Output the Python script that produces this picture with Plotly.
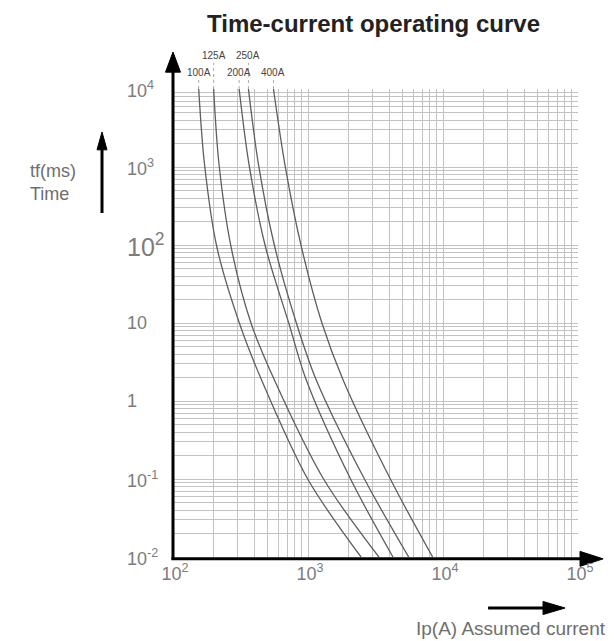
import math
import plotly.graph_objects as go

# ---- data ----
time_ms = [10000, 1100, 95, 10, 1.86, 0.097, 0.01]
curr_100a = [155, 171, 211, 310, 453, 1005, 2470]
curr_125a = [200, 219, 269, 378, 564, 1318, 3350]
curr_200a = [309, 365, 484, 720, 971, 2085, 4260]
curr_250a = [362, 429, 567, 820, 1151, 2643, 5570]
curr_400a = [555, 673, 893, 1268, 1820, 4110, 8380]
ratings = ["100A", "125A", "200A", "250A", "400A"]

x_decades = [100, 1000, 10000, 100000]
x_decade_text = ["10<sup>2</sup>", "10<sup>3</sup>", "10<sup>4</sup>", "10<sup>5</sup>"]
y_decades = [10000, 1000, 100, 10, 1, 0.1, 0.01]
y_decade_text = ["10<sup>4</sup>", "10<sup>3</sup>", "10<sup>2</sup>", "10", "1",
                 "10<sup>-1</sup>", "10<sup>-2</sup>"]
minor_mult = [1, 2, 3, 4, 5, 6, 7, 8, 9]

curves = [curr_100a, curr_125a, curr_200a, curr_250a, curr_400a]

FONT = "Liberation Sans, Arial, sans-serif"
GRAY = "#7c7c7c"

fig = go.Figure()
for name, cur in zip(ratings, curves):
    fig.add_trace(go.Scatter(x=cur, y=time_ms, mode="lines", name=name,
                             line=dict(color="#5e5e5e", width=1.3, shape="spline", smoothing=0.9),
                             showlegend=False, hoverinfo="x+y+name"))

# grid positions (1..9 per decade)
x_grid = [m * d for d in x_decades[:-1] for m in minor_mult] + [x_decades[-1]]
x_grid_text = []
for v in x_grid:
    if v in x_decades:
        x_grid_text.append(x_decade_text[x_decades.index(v)])
    else:
        x_grid_text.append("")
y_grid = [m * d for d in sorted(y_decades)[:-1] for m in minor_mult] + [max(y_decades)]

fig.update_xaxes(type="log", range=[2, 5], tickvals=x_grid, ticktext=x_grid_text,
                 showgrid=True, gridcolor="#c2c2c2", gridwidth=1, ticks="",
                 showline=False, zeroline=False, ticklabelstandoff=4, ticklabelshift=2,
                 tickfont=dict(family=FONT, size=18, color=GRAY))
fig.update_yaxes(type="log", range=[-2, 4], tickvals=y_grid, showticklabels=False,
                 showgrid=True, gridcolor="#c2c2c2", gridwidth=1, ticks="",
                 showline=False, zeroline=False)

annotations = []
# y tick labels (left aligned like reference)
for v, t in zip(y_decades, y_decade_text):
    size = 25 if v == 100 else 18
    annotations.append(dict(x=-0.119, xref="paper", y=math.log10(v), yref="y",
                            text=t, showarrow=False, xanchor="left", yanchor="middle",
                            font=dict(family=FONT, size=size, color=GRAY)))

# curve labels
label_y = [1.019, 1.056, 1.019, 1.056, 1.019]
shapes = []
for name, cur, ly in zip(ratings, curves, label_y):
    annotations.append(dict(x=math.log10(cur[0]), xref="x", y=ly, yref="paper",
                            text=name, showarrow=False, xanchor="center", yanchor="bottom",
                            font=dict(family=FONT, size=10, color="#444")))
    shapes.append(dict(type="line", xref="x", yref="paper", x0=cur[0], x1=cur[0],
                       y0=1.0, y1=ly, line=dict(color="#aaaaaa", width=1, dash="dot")))

# title
annotations.append(dict(x=0.494, y=1.141, xref="paper", yref="paper",
                        text="<b>Time-current operating curve</b>", showarrow=False,
                        xanchor="center", yanchor="middle",
                        font=dict(family=FONT, size=24, color="#222")))
# y axis title
annotations.append(dict(x=-0.358, y=0.801, xref="paper", yref="paper",
                        text="tf(ms)<br>Time", showarrow=False, align="left",
                        xanchor="left", yanchor="middle",
                        font=dict(family=FONT, size=18, color="#6e6e6e")))
# x axis title
annotations.append(dict(x=1.074, y=-0.152, xref="paper", yref="paper",
                        text="Ip(A) Assumed current", showarrow=False,
                        xanchor="right", yanchor="middle",
                        font=dict(family=FONT, size=19, color="#6e6e6e")))

# axis lines with arrowheads
shapes += [
    dict(type="line", xref="paper", yref="paper", x0=0, x1=0, y0=-0.005, y1=1.04,
         line=dict(color="black", width=3)),
    dict(type="path", xref="paper", yref="paper",
         path="M -0.0185,1.036 L 0.0185,1.036 L 0,1.079 Z",
         fillcolor="black", line=dict(color="black", width=1)),
    dict(type="line", xref="paper", yref="paper", x0=-0.004, x1=1.01, y0=-0.004, y1=-0.004,
         line=dict(color="black", width=3)),
    dict(type="path", xref="paper", yref="paper", layer="below",
         path="M 1.005,0.012 L 1.005,-0.020 L 1.062,-0.004 Z",
         fillcolor="black", line=dict(color="black", width=1)),
    # y-title arrow
    dict(type="line", xref="paper", yref="paper", x0=-0.1753, x1=-0.1753, y0=0.735, y1=0.875,
         line=dict(color="black", width=3)),
    dict(type="path", xref="paper", yref="paper",
         path="M -0.1876,0.870 L -0.1630,0.870 L -0.1753,0.908 Z",
         fillcolor="black", line=dict(color="black", width=1)),
    # x-title arrow
    dict(type="line", xref="paper", yref="paper", x0=0.778, x1=0.92, y0=-0.109, y1=-0.109,
         line=dict(color="black", width=3)),
    dict(type="path", xref="paper", yref="paper",
         path="M 0.9136,-0.095 L 0.9136,-0.123 L 0.968,-0.109 Z",
         fillcolor="black", line=dict(color="black", width=1)),
]

# page body has an 8px margin, so the figure is 8px smaller and shifted
fig.update_layout(width=606, height=633,
                  margin=dict(l=165, r=36, t=81, b=84, pad=0),
                  plot_bgcolor="white", paper_bgcolor="white",
                  annotations=annotations, shapes=shapes,
                  font=dict(family=FONT))

fig.write_html("out.html")
